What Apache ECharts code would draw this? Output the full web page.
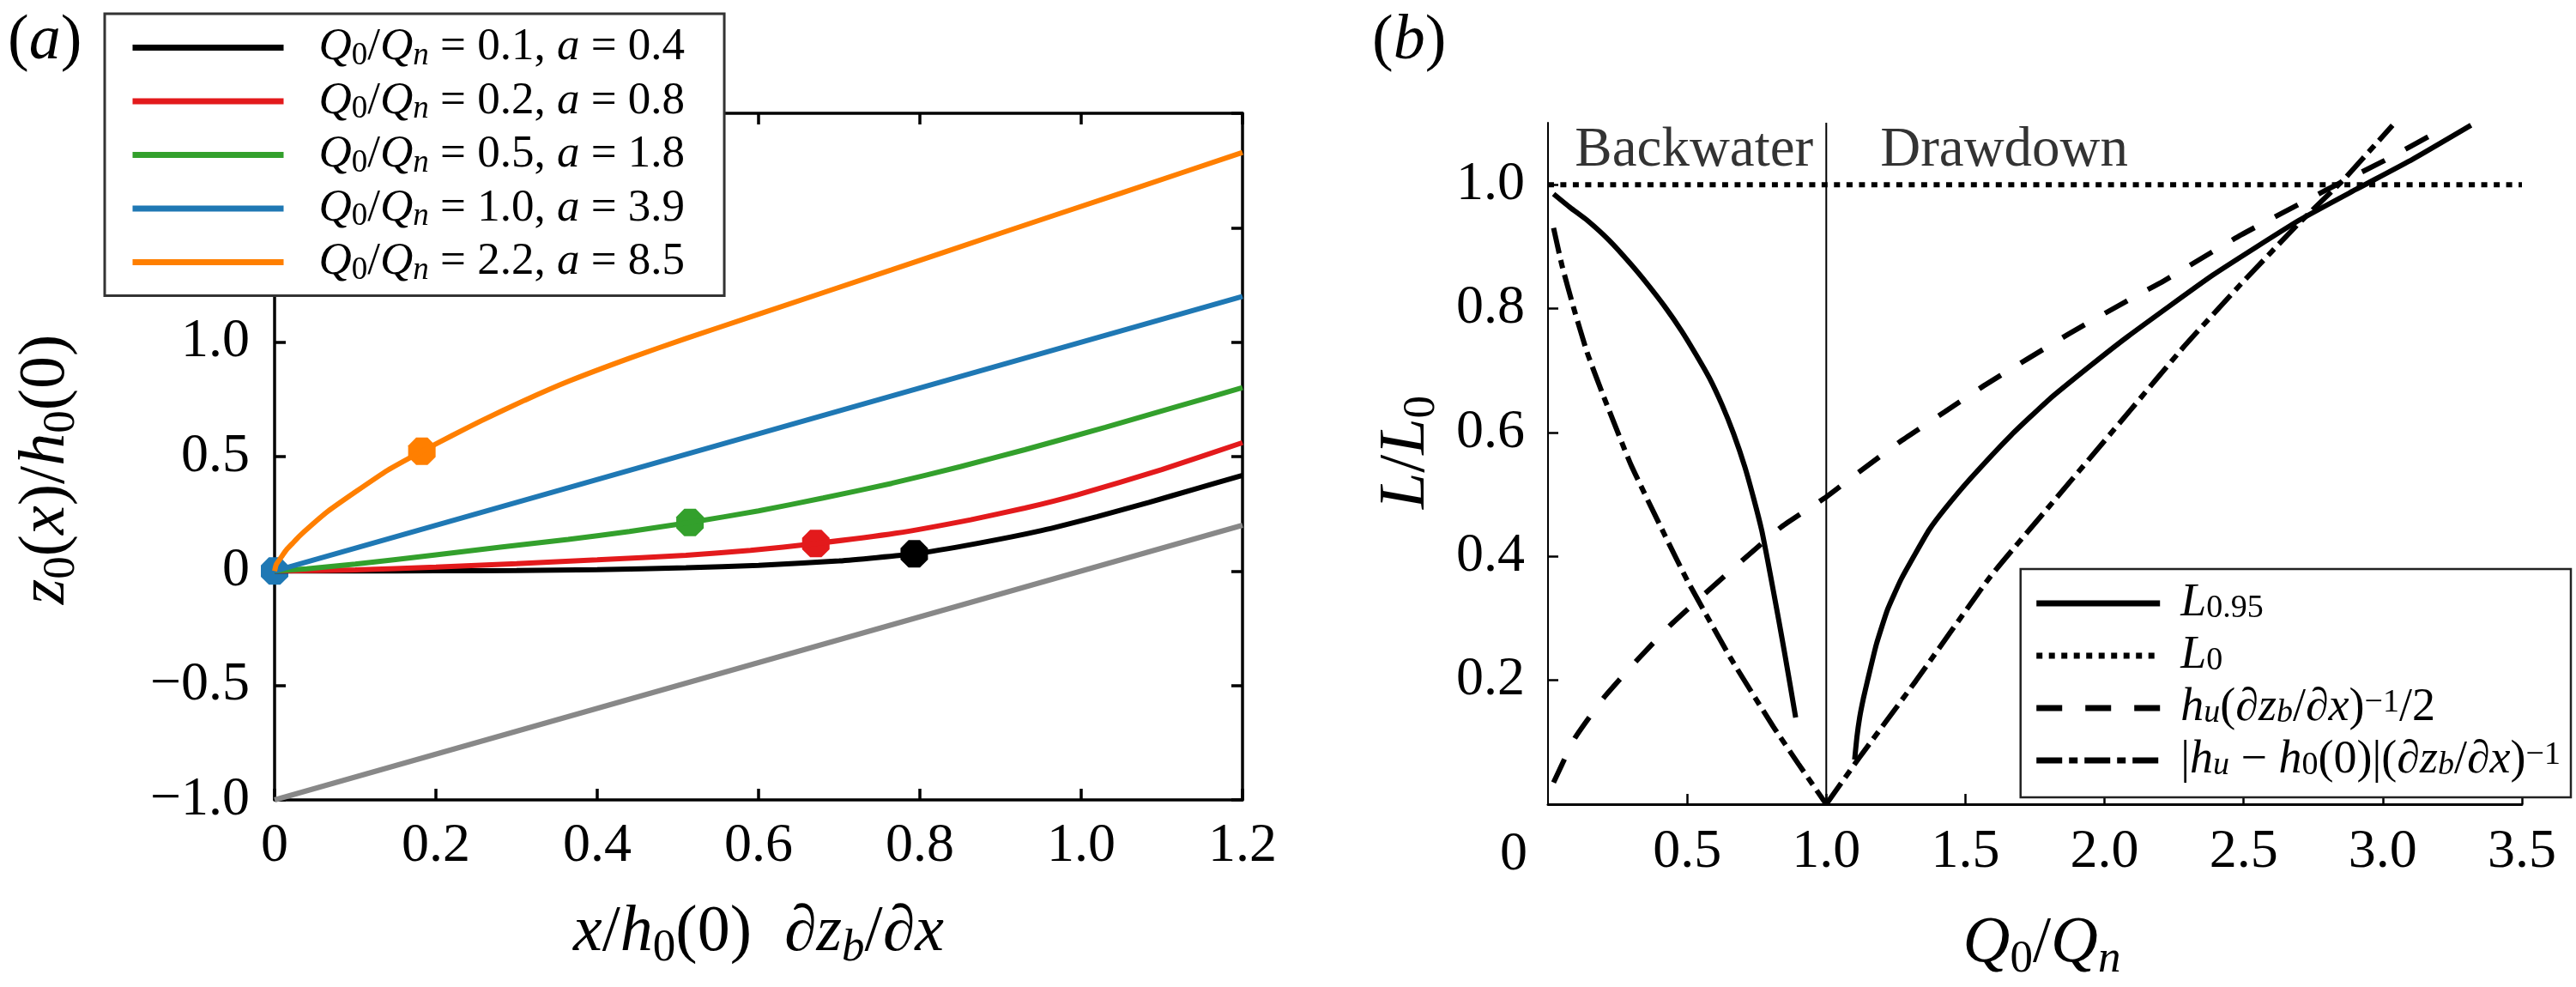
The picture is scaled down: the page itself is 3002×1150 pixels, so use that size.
<!DOCTYPE html>
<html>
<head>
<meta charset="utf-8">
<script src="https://cdn.jsdelivr.net/npm/echarts@6/dist/echarts.min.js"></script>
<style>
html, body { margin: 0; padding: 0; background: #fff; }
#main { width: 3002px; height: 1150px; }
</style>
</head>
<body>
<div id="main"></div>
<script>
// panel (a): free surface z0(x)/h0(0) against x/h0(0) dzb/dx
var qRatio = ['0.1', '0.2', '0.5', '1.0', '2.2'];
var aValue = ['0.4', '0.8', '1.8', '3.9', '8.5'];
var colorsA = ['#000000', '#e31a1c', '#33a02c', '#1f78b4', '#ff7f00'];

var bedLine = [[0, -1], [1.2, 0.2]];
var curveQ01 = [[0, 0], [0.1, 0.0003], [0.2, 0.0008], [0.3, 0.002], [0.4, 0.006], [0.51, 0.014],
  [0.6, 0.025], [0.7, 0.044], [0.793, 0.075], [0.87, 0.12], [0.951, 0.177], [1.02, 0.238],
  [1.084, 0.3], [1.14, 0.357], [1.2, 0.418]];
var curveQ02 = [[0, 0], [0.1, 0.005], [0.2, 0.017], [0.3, 0.032], [0.4, 0.049], [0.51, 0.069],
  [0.59, 0.09], [0.671, 0.12], [0.77, 0.165], [0.863, 0.224], [0.93, 0.275], [0.995, 0.333],
  [1.1, 0.443], [1.2, 0.561]];
var curveQ05 = [[0, 0], [0.04, 0.01], [0.1, 0.03], [0.2, 0.071], [0.28, 0.104], [0.364, 0.138],
  [0.44, 0.173], [0.515, 0.212], [0.6, 0.263], [0.68, 0.319], [0.765, 0.383], [0.85, 0.456],
  [0.93, 0.53], [1.03, 0.628], [1.12, 0.72], [1.2, 0.801]];
var curveQ10 = [[0, 0], [1.2, 1.2]];
var curveQ22 = [[0, 0], [0.002, 0.028], [0.005, 0.044], [0.01, 0.07], [0.015, 0.094], [0.022, 0.12],
  [0.03, 0.15], [0.045, 0.198], [0.0662, 0.261], [0.1, 0.345], [0.14, 0.44], [0.1826, 0.523],
  [0.22, 0.592], [0.256, 0.656], [0.31, 0.746], [0.365, 0.83], [0.44, 0.93], [0.51, 1.016],
  [0.6, 1.122], [0.765, 1.316], [0.9, 1.476], [1.05, 1.652], [1.2, 1.829]];
var curvesA = [curveQ01, curveQ02, curveQ05, curveQ10, curveQ22];
var markersA = [[0.793, 0.075], [0.671, 0.12], [0.515, 0.212], [0, 0], [0.1826, 0.523]];

// panel (b): length scales against Q0/Qn
var l95Backwater = [[0.02, 0.985], [0.08, 0.963], [0.142, 0.942], [0.22, 0.91], [0.297, 0.872],
  [0.36, 0.838], [0.42, 0.803], [0.48, 0.764], [0.533, 0.725], [0.58, 0.688], [0.625, 0.645],
  [0.667, 0.598], [0.707, 0.545], [0.74, 0.492], [0.768, 0.442], [0.79, 0.392], [0.81, 0.344],
  [0.83, 0.295], [0.85, 0.245], [0.87, 0.193], [0.89, 0.14]];
var l95Drawdown = [[1.102, 0.072], [1.11, 0.108], [1.12, 0.14], [1.133, 0.17], [1.148, 0.199],
  [1.18, 0.258], [1.22, 0.314], [1.27, 0.364], [1.322, 0.406], [1.37, 0.443], [1.425, 0.476],
  [1.517, 0.525], [1.665, 0.596], [1.8, 0.653], [1.95, 0.708], [2.081, 0.754], [2.389, 0.854],
  [2.697, 0.942], [2.902, 0.992], [3.107, 1.041], [3.317, 1.096]];
var l0Line = [[0, 1], [3.5, 1]];
var halfDepthScale = [[0.02, 0.035], [0.097, 0.107], [0.199, 0.171], [0.317, 0.231], [0.44, 0.289],
  [0.574, 0.344], [0.707, 0.397], [0.84, 0.448], [1.0, 0.496], [1.117, 0.536], [1.271, 0.587],
  [1.425, 0.633], [1.579, 0.679], [1.871, 0.759], [2.081, 0.8125], [2.214, 0.845], [2.491, 0.919],
  [2.799, 0.992], [3.004, 1.0385], [3.194, 1.085]];
var depthDiffBackwater = [[0.02, 0.93], [0.05, 0.87], [0.091, 0.803], [0.14, 0.73], [0.194, 0.665],
  [0.297, 0.549], [0.42, 0.434], [0.502, 0.36], [0.656, 0.236], [0.81, 0.125], [0.9, 0.065], [1.0, 0]];
var depthDiffDrawdown = [[1.0, 0], [1.117, 0.074], [1.322, 0.199], [1.589, 0.367], [1.8, 0.48],
  [2.091, 0.635], [2.286, 0.739], [2.491, 0.84], [2.697, 0.937], [2.861, 1.009], [3.035, 1.096]];
var regimeDivider = [[1, 0], [1, 1.1]];
var regimeLabels = [[0.0966, 1.0547, 'Backwater'], [1.194, 1.0547, 'Drawdown']];

var xTicksB = [0.5, 1.0, 1.5, 2.0, 2.5, 3.0, 3.5];
var xLabelsB = [0, 0.5, 1.0, 1.5, 2.0, 2.5, 3.0, 3.5];
var yTicksB = [0.2, 0.4, 0.6, 0.8, 1.0];

var serif = "'Liberation Serif', 'DejaVu Serif', serif";

function richSet(size, lh) {
  var small = Math.round(size * 0.7);
  var subLH = Math.round(lh - 0.56 * size);
  var base = { fontFamily: serif, fontWeight: 'normal', color: '#000' };
  function st(extra) {
    var o = {};
    for (var k in base) o[k] = base[k];
    for (var j in extra) o[j] = extra[j];
    return o;
  }
  return {
    r: st({ fontSize: size, lineHeight: lh }),
    i: st({ fontStyle: 'italic', fontSize: size, lineHeight: lh }),
    s: st({ fontSize: small, lineHeight: subLH, verticalAlign: 'bottom' }),
    si: st({ fontStyle: 'italic', fontSize: small, lineHeight: subLH, verticalAlign: 'bottom' }),
    p: st({ fontSize: small, lineHeight: subLH, verticalAlign: 'top' }),
    z: st({ fontSize: size, lineHeight: lh, padding: [0, 80, 0, 0] })
  };
}

function tickFmt(v) {
  if (Math.abs(v) < 1e-9) return '0';
  return v.toFixed(1).replace('-', '\u2212');
}

var namesA = qRatio.map(function (q, k) { return 'Q0/Qn = ' + q + ', a = ' + aValue[k]; });

var legendTextB = {
  'L095': '{i|L}{s|0.95}',
  'L0': '{i|L}{s|0}',
  'halfDepth': '{i|h}{si|u}{r|(\u2202}{i|z}{si|b}{r|/\u2202}{i|x}{r|)}{p|\u22121}{r|/2}',
  'depthDiff': '{r||}{i|h}{si|u}{r| \u2212 }{i|h}{s|0}{r|(0)|(\u2202}{i|z}{si|b}{r|/\u2202}{i|x}{r|)}{p|\u22121}'
};
var dashB = { 'L095': 'solid', 'L0': [7, 7.5], 'halfDepth': [30, 27], 'depthDiff': [30, 8, 10, 8] };

var octagon = 'path://M-0.414,-1L0.414,-1L1,-0.414L1,0.414L0.414,1L-0.414,1L-1,0.414L-1,-0.414Z';

var series = [];
series.push({
  name: 'bed', type: 'line', xAxisIndex: 0, yAxisIndex: 0, data: bedLine,
  symbol: 'none', lineStyle: { color: '#888888', width: 6 }, silent: true
});
curvesA.forEach(function (c, k) {
  series.push({
    name: namesA[k], type: 'line', xAxisIndex: 0, yAxisIndex: 0, data: c,
    symbol: 'none', smooth: 0.15, color: colorsA[k],
    lineStyle: { color: colorsA[k], width: 6 }
  });
  series.push({
    name: 'dot' + k, type: 'scatter', xAxisIndex: 0, yAxisIndex: 0, data: [markersA[k]],
    symbol: octagon, symbolSize: 32, clip: false, itemStyle: { color: colorsA[k], opacity: 1 }
  });
});

function lineB(name, data, dash) {
  return {
    name: name, type: 'line', xAxisIndex: 2, yAxisIndex: 2, data: data,
    symbol: 'none', smooth: 0.15, color: '#000',
    lineStyle: { color: '#000', width: 6, type: dash, cap: 'butt' }
  };
}
series.push({
  name: 'divider', type: 'line', xAxisIndex: 2, yAxisIndex: 2, data: regimeDivider,
  symbol: 'none', lineStyle: { color: '#000', width: 2 }
});
series.push(lineB('L0', l0Line, dashB.L0));
series.push(lineB('L095', l95Backwater, 'solid'));
series.push(lineB('L095', l95Drawdown, 'solid'));
series.push(lineB('halfDepth', halfDepthScale, dashB.halfDepth));
series.push(lineB('depthDiff', depthDiffBackwater, dashB.depthDiff));
series.push(lineB('depthDiff', depthDiffDrawdown, dashB.depthDiff));
series.push({
  name: 'regimes', type: 'scatter', xAxisIndex: 2, yAxisIndex: 2, data: regimeLabels,
  symbolSize: 0, clip: false,
  label: {
    show: true, position: [0, 0], align: 'left', verticalAlign: 'middle',
    formatter: function (p) { return p.value[2]; },
    fontFamily: serif, fontSize: 65, color: '#000'
  }
});

var axisA = {
  axisLine: { show: true, onZero: false, lineStyle: { color: '#000', width: 3.5 } },
  axisTick: { show: true, inside: true, length: 13, lineStyle: { color: '#000', width: 3.5 } },
  splitLine: { show: false }
};

function merge(base, extra) {
  var o = JSON.parse(JSON.stringify(base));
  for (var k in extra) o[k] = extra[k];
  return o;
}

var option = {
  animation: false,
  backgroundColor: '#fff',
  title: [
    { text: '{r|(}{i|a}{r|)}', left: 4, top: 4, textStyle: { fontWeight: 'normal', rich: richSet(74, 80) } },
    { text: '{r|(}{i|b}{r|)}', left: 1594, top: 4, textStyle: { fontWeight: 'normal', rich: richSet(74, 80) } }
  ],
  graphic: [
    {
      type: 'text', x: 54, y: 547, rotation: Math.PI / 2, silent: true,
      style: {
        text: '{i|z}{s|0}{r|(}{i|x}{r|)/}{i|h}{s|0}{r|(0)}',
        rich: richSet(76, 90), align: 'center', verticalAlign: 'middle'
      }
    },
    {
      type: 'text', x: 1639, y: 527, rotation: Math.PI / 2, silent: true,
      style: {
        text: '{i|L}{r|/}{i|L}{s|0}',
        rich: richSet(76, 90), align: 'center', verticalAlign: 'middle'
      }
    }
  ],
  grid: [
    { left: 320, top: 132, width: 1128, height: 800, outerBoundsMode: 'none' },
    { left: 1804, top: 143, width: 1135, height: 794, outerBoundsMode: 'none' }
  ],
  xAxis: [
    merge(axisA, {
      type: 'value', gridIndex: 0, min: 0, max: 1.2, interval: 0.2, position: 'bottom',
      axisLabel: { margin: 22, fontFamily: serif, fontSize: 64, color: '#000', formatter: tickFmt },
      name: '{i|x}{r|/}{i|h}{s|0}{r|(0)  \u2202}{i|z}{si|b}{r|/\u2202}{i|x}',
      nameLocation: 'middle', nameGap: 110, nameTextStyle: { rich: richSet(76, 90) }
    }),
    merge(axisA, {
      type: 'value', gridIndex: 0, min: 0, max: 1.2, interval: 0.2, position: 'top',
      axisLabel: { show: false }
    }),
    {
      type: 'value', gridIndex: 1, min: 0, max: 3.5, interval: 0.5, position: 'bottom',
      axisLine: { show: true, onZero: false, lineStyle: { color: '#000', width: 3 } },
      axisTick: { show: true, inside: true, length: 12, customValues: xTicksB, lineStyle: { color: '#000', width: 2.5 } },
      splitLine: { show: false },
      axisLabel: {
        margin: 24, fontFamily: serif, fontSize: 64, color: '#000', customValues: xLabelsB,
        formatter: function (v) { return Math.abs(v) < 1e-9 ? '{z|0}' : v.toFixed(1); },
        rich: richSet(64, 70)
      },
      name: '{i|Q}{s|0}{r|/}{i|Q}{si|n}',
      nameLocation: 'middle', nameGap: 118, nameTextStyle: { rich: richSet(76, 90), padding: [0, 0, 0, 16] }
    }
  ],
  yAxis: [
    merge(axisA, {
      type: 'value', gridIndex: 0, min: -1, max: 2, interval: 0.5, position: 'left',
      axisLabel: {
        margin: 29, fontFamily: serif, fontSize: 64, color: '#000',
        formatter: function (v) { return v > 1.01 ? '' : tickFmt(v); }
      }
    }),
    merge(axisA, {
      type: 'value', gridIndex: 0, min: -1, max: 2, interval: 0.5, position: 'right',
      axisLabel: { show: false }
    }),
    {
      type: 'value', gridIndex: 1, min: 0, max: 1.1, interval: 0.2, position: 'left',
      axisLine: { show: true, onZero: false, lineStyle: { color: '#000', width: 2 } },
      axisTick: { show: true, inside: true, length: 12, customValues: yTicksB, lineStyle: { color: '#000', width: 2.5 } },
      splitLine: { show: false },
      axisLabel: {
        margin: 27, fontFamily: serif, fontSize: 64, color: '#000', customValues: yTicksB,
        formatter: function (v) { return v.toFixed(1); }
      }
    }
  ],
  legend: [
    {
      orient: 'vertical', left: 122, top: 16,
      padding: [13, 46, 11, 29], itemGap: 8, itemWidth: 176, itemHeight: 56,
      backgroundColor: '#fff', borderColor: '#333', borderWidth: 3,
      selectedMode: false,
      data: namesA.map(function (n) { return { name: n, itemStyle: { opacity: 0 } }; }),
      lineStyle: { width: 7 },
      formatter: function (name) {
        var k = namesA.indexOf(name);
        return '{i|Q}{s|0}{r|/}{i|Q}{si|n}{r| = ' + qRatio[k] + ', }{i|a}{r| = ' + aValue[k] + '}';
      },
      textStyle: { padding: [0, 0, 0, 36], rich: richSet(53, 56) }
    },
    {
      orient: 'vertical', right: 6, top: 663,
      padding: [13, 12, 16, 15], itemGap: 7, itemWidth: 144, itemHeight: 50,
      backgroundColor: '#fff', borderColor: '#222', borderWidth: 2.5,
      selectedMode: false,
      data: ['L095', 'L0', 'halfDepth', 'depthDiff'].map(function (n) {
        return { name: n, itemStyle: { opacity: 0 }, lineStyle: { type: dashB[n], width: 7, color: '#000' } };
      }),
      lineStyle: { width: 7 },
      formatter: function (name) { return legendTextB[name]; },
      textStyle: { padding: [0, 0, 0, 19], rich: richSet(54, 50) }
    }
  ],
  series: series
};

var chart = echarts.init(document.getElementById('main'));
chart.setOption(option);
</script>
</body>
</html>
